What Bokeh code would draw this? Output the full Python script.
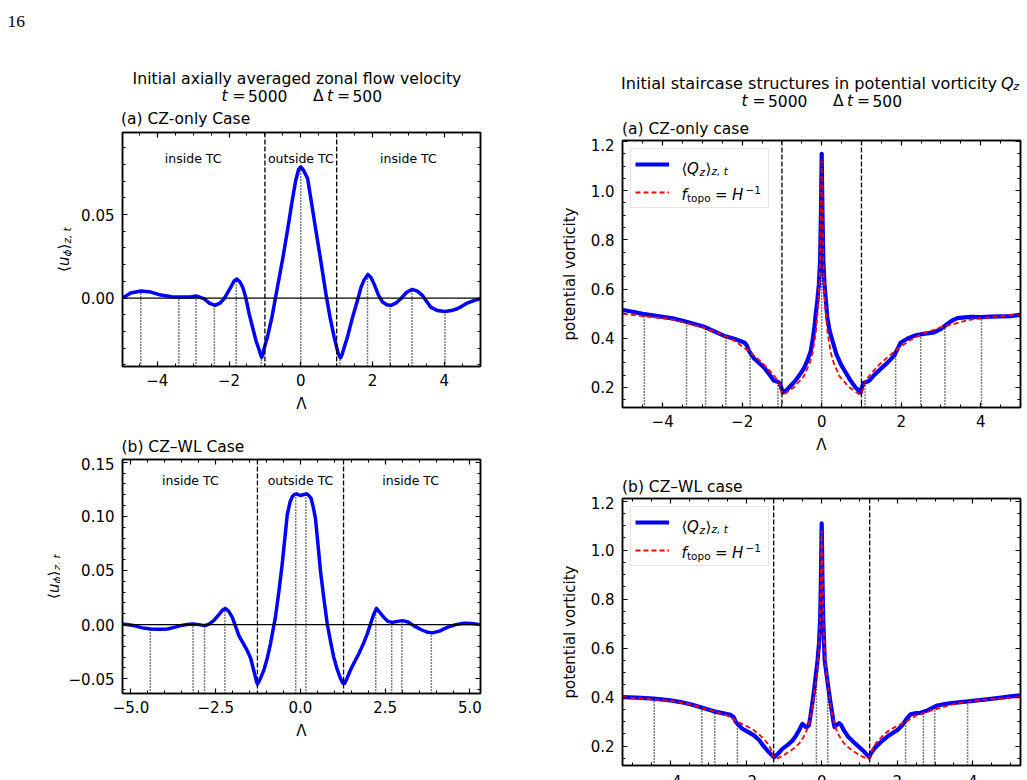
import numpy as np
from bokeh.plotting import figure
from bokeh.layouts import row, column
from bokeh.models import (Range1d, LinearAxis, SingleIntervalTicker, CustomJSTickFormatter,
                          Span, Label, Legend, LegendItem)
from bokeh.core.properties import value
from bokeh.embed import file_html
from bokeh.resources import INLINE

FONT = "DejaVu Sans"
SERIF = "Liberation Serif"
BLUE = "#0000ff"
RED = "#ff0000"

# ---------------- data ----------------
# (a) CZ-only: axially averaged zonal flow <u_phi>_{z,t}
lam_a = [-4.97, -4.74, -4.46, -4.18, -3.9, -3.6, -3.38, -3.06, -2.9, -2.69, -2.55, -2.39, -2.25,
         -2.14, -1.95, -1.86, -1.78, -1.7, -1.62, -1.53, -1.44, -1.25, -1.16, -1.12, -1.09, -1.06,
         -1.02, -0.93, -0.8, -0.65, -0.5, -0.37, -0.25, -0.14, -0.06, 0.0, 0.08, 0.19, 0.3, 0.42,
         0.56, 0.7, 0.82, 0.93, 1.03, 1.08, 1.11, 1.15, 1.19, 1.3, 1.45, 1.58, 1.68, 1.76, 1.87,
         1.96, 2.04, 2.16, 2.28, 2.4, 2.51, 2.65, 2.79, 2.95, 3.11, 3.25, 3.39, 3.5, 3.62, 3.8,
         4.02, 4.2, 4.36, 4.5, 4.64, 4.82, 5.0]
u_a = [0.0, 0.003, 0.0042, 0.0036, 0.0018, 0.0008, 0.0006, 0.0008, 0.0012, -0.0005, -0.003,
       -0.0044, -0.003, -0.0005, 0.0066, 0.0102, 0.0114, 0.0098, 0.0066, 0.0, -0.0094, -0.0254,
       -0.031, -0.034, -0.0355, -0.034, -0.030, -0.0234, -0.011, 0.0066, 0.024, 0.0406, 0.057,
       0.0706, 0.077, 0.0786, 0.0765, 0.0716, 0.057, 0.0406, 0.022, 0.0026, -0.012, -0.0234,
       -0.032, -0.035, -0.0357, -0.034, -0.031, -0.0234, -0.011, -0.0014, 0.0065, 0.0106, 0.0142,
       0.0122, 0.0086, 0.002, -0.0024, -0.004, -0.0044, -0.003, -0.0004, 0.0035, 0.0052, 0.0042,
       0.0016, -0.0018, -0.0054, -0.0074, -0.008, -0.0075, -0.0064, -0.0048, -0.003, -0.0015,
       -0.0004]

# (b) CZ-WL: axially averaged zonal flow
lam_b = [-5.25, -4.92, -4.66, -4.42, -4.15, -3.93, -3.72, -3.54, -3.35, -3.17, -3.0, -2.82, -2.7,
         -2.56, -2.4, -2.3, -2.22, -2.12, -2.01, -1.82, -1.66, -1.57, -1.47, -1.38, -1.31, -1.27,
         -1.2, -1.08, -0.98, -0.885, -0.74, -0.64, -0.54, -0.46, -0.39, -0.31, -0.24, -0.18, -0.12,
         -0.05, 0.02, 0.1, 0.17, 0.24, 0.31, 0.38, 0.44, 0.52, 0.59, 0.69, 0.79, 0.89, 0.98, 1.08,
         1.18, 1.25, 1.3, 1.38, 1.47, 1.6, 1.72, 1.85, 1.97, 2.08, 2.16, 2.24, 2.32, 2.46, 2.58,
         2.71, 2.86, 3.01, 3.17, 3.34, 3.55, 3.72, 3.89, 4.1, 4.33, 4.58, 4.82, 5.05, 5.31]
u_b = [0.0006, -0.0009, -0.003, -0.004, -0.0042, -0.004, -0.0025, -0.0009, 0.0002, 0.0006, 0.0,
       -0.0009, 0.0005, 0.0037, 0.0095, 0.0133, 0.015, 0.0125, 0.0067, -0.010, -0.019, -0.024,
       -0.031, -0.042, -0.051, -0.055, -0.051, -0.042, -0.031, -0.0177, 0.0067, 0.030, 0.0557,
       0.080, 0.1016, 0.113, 0.1183, 0.1203, 0.1208, 0.1198, 0.1193, 0.1202, 0.1208, 0.1195,
       0.1168, 0.108, 0.0984, 0.073, 0.0495, 0.024, 0.0006, -0.016, -0.030, -0.041, -0.0498,
       -0.054, -0.0544, -0.049, -0.0422, -0.034, -0.0269, -0.018, -0.0085, 0.002, 0.0095, 0.015,
       0.012, 0.0067, 0.003, 0.0021, 0.003, 0.0037, 0.0025, -0.0009, -0.0045, -0.0068, -0.0076,
       -0.006, -0.0025, 0.0, 0.0012, 0.001, 0.0]

# (a) CZ-only: potential vorticity <Q_z>_{z,t} and f_topo = 1/H
lam_c = [-5.0, -4.75, -4.5, -4.25, -4.0, -3.75, -3.45, -3.2, -2.96, -2.7, -2.42, -2.2, -1.95,
         -1.88, -1.83, -1.7, -1.45, -1.3, -1.2, -1.1, -1.05, -1.0, -0.96, -0.88, -0.78, -0.67,
         -0.57, -0.46, -0.36, -0.28, -0.23, -0.18, -0.15, -0.11, -0.07, -0.04, -0.02, 0.0, 0.02,
         0.04, 0.07, 0.11, 0.14, 0.2, 0.27, 0.37, 0.48, 0.6, 0.73, 0.85, 0.94, 0.98, 1.0, 1.05,
         1.12, 1.19, 1.33, 1.48, 1.65, 1.82, 1.9, 1.99, 2.15, 2.32, 2.55, 2.83, 3.0, 3.16, 3.3,
         3.41, 3.6, 3.75, 4.0, 4.25, 4.5, 4.75, 5.0]
q_c = [0.515, 0.508, 0.499, 0.493, 0.487, 0.481, 0.469, 0.458, 0.447, 0.428, 0.408, 0.398, 0.383,
       0.37, 0.349, 0.318, 0.281, 0.25, 0.227, 0.223, 0.215, 0.192, 0.18, 0.19, 0.207, 0.226,
       0.248, 0.274, 0.309, 0.345, 0.39, 0.45, 0.499, 0.553, 0.62, 0.72, 0.9, 1.15, 0.9, 0.72,
       0.62, 0.545, 0.485, 0.43, 0.39, 0.335, 0.295, 0.262, 0.227, 0.2, 0.187, 0.18, 0.195, 0.218,
       0.222, 0.227, 0.252, 0.275, 0.3, 0.329, 0.355, 0.383, 0.398, 0.41, 0.418, 0.424, 0.438,
       0.458, 0.474, 0.482, 0.485, 0.487, 0.486, 0.488, 0.489, 0.49, 0.495]
lam_fc = [-5.0, -4.5, -4.0, -3.75, -3.5, -3.16, -3.0, -2.49, -2.2, -1.85, -1.48, -1.25, -1.11,
          -1.06, -1.0, -0.94, -0.7, -0.45, -0.3, -0.23, -0.15, -0.09, -0.05, -0.025, 0.0, 0.025,
          0.05, 0.09, 0.15, 0.23, 0.3, 0.45, 0.7, 0.94, 1.0, 1.06, 1.11, 1.25, 1.48, 1.85, 2.2,
          2.49, 3.0, 3.16, 3.5, 3.75, 4.0, 4.5, 5.0]
f_c = [0.50, 0.49, 0.481, 0.476, 0.466, 0.451, 0.445, 0.415, 0.39, 0.35, 0.298, 0.258, 0.23,
       0.21, 0.172, 0.173, 0.2, 0.245, 0.3, 0.34, 0.42, 0.53, 0.65, 0.85, 1.13, 0.85, 0.65, 0.53,
       0.42, 0.34, 0.3, 0.245, 0.2, 0.173, 0.172, 0.21, 0.23, 0.258, 0.298, 0.35, 0.39, 0.415,
       0.445, 0.451, 0.466, 0.476, 0.481, 0.49, 0.50]

# (b) CZ-WL: potential vorticity and f_topo
lam_d = [-5.27, -4.9, -4.45, -4.0, -3.73, -3.45, -3.2, -2.85, -2.6, -2.41, -2.33, -2.27, -2.1,
         -1.95, -1.79, -1.65, -1.53, -1.4, -1.26, -1.15, -1.04, -0.9, -0.77, -0.68, -0.6, -0.55,
         -0.51, -0.46, -0.42, -0.38, -0.34, -0.3, -0.25, -0.2, -0.16, -0.11, -0.07, -0.04, -0.02,
         0.0, 0.02, 0.04, 0.08, 0.15, 0.22, 0.28, 0.31, 0.34, 0.4, 0.46, 0.52, 0.59, 0.7, 0.85,
         1.0, 1.12, 1.21, 1.26, 1.3, 1.42, 1.56, 1.73, 1.91, 2.02, 2.13, 2.24, 2.35, 2.5, 2.62,
         2.8, 3.06, 3.3, 3.5, 3.94, 4.3, 4.7, 5.0, 5.27]
q_d = [0.40, 0.398, 0.394, 0.387, 0.38, 0.37, 0.359, 0.342, 0.334, 0.328, 0.318, 0.298, 0.271,
       0.258, 0.244, 0.224, 0.199, 0.176, 0.155, 0.17, 0.189, 0.205, 0.223, 0.243, 0.264, 0.28,
       0.291, 0.285, 0.278, 0.28, 0.285, 0.32, 0.373, 0.43, 0.482, 0.55, 0.62, 0.72, 0.88, 1.11,
       0.88, 0.72, 0.55, 0.468, 0.39, 0.332, 0.3, 0.278, 0.287, 0.294, 0.285, 0.264, 0.238,
       0.216, 0.195, 0.178, 0.162, 0.155, 0.17, 0.195, 0.216, 0.238, 0.257, 0.268, 0.285, 0.31,
       0.33, 0.335, 0.336, 0.346, 0.366, 0.373, 0.377, 0.384, 0.39, 0.397, 0.403, 0.407]
lam_fd = [-5.27, -4.5, -4.0, -3.5, -3.0, -2.5, -2.27, -2.0, -1.79, -1.6, -1.45, -1.35, -1.3,
          -1.26, -1.15, -1.0, -0.74, -0.6, -0.48, -0.38, -0.3, -0.24, -0.2, -0.15, -0.11, -0.06,
          -0.03, 0.0, 0.03, 0.06, 0.11, 0.15, 0.2, 0.24, 0.3, 0.38, 0.48, 0.6, 0.74, 1.0, 1.15,
          1.26, 1.3, 1.35, 1.45, 1.6, 1.79, 2.0, 2.27, 2.5, 3.0, 3.5, 4.0, 4.5, 5.27]
f_d = [0.40, 0.392, 0.385, 0.372, 0.35, 0.325, 0.303, 0.283, 0.265, 0.24, 0.215, 0.19, 0.17,
       0.148, 0.152, 0.163, 0.19, 0.21, 0.237, 0.27, 0.315, 0.36, 0.41, 0.47, 0.52, 0.63, 0.8,
       1.08, 0.8, 0.63, 0.52, 0.47, 0.41, 0.36, 0.315, 0.27, 0.237, 0.21, 0.19, 0.163, 0.152,
       0.148, 0.17, 0.19, 0.215, 0.24, 0.265, 0.283, 0.303, 0.325, 0.35, 0.372, 0.385, 0.392,
       0.40]

# zonal-jet extrema (dotted markers) and tangent-cylinder boundaries
extrema_cz = [-4.46, -3.4, -2.92, -2.41, -1.8, -1.1, 0.0, 1.09, 1.86, 2.49, 3.1, 4.02]
extrema_wl = [-4.43, -3.17, -2.83, -2.23, -0.14, 0.16, 2.22, 2.69, 2.99, 3.86]
tc_cz = [-1.0, 1.0]
tc_wl = [-1.27, 1.27]
region_x_cz = [-3.0, 0.0, 3.0]
region_x_wl = [-3.25, 0.0, 3.25]
region_names = ["inside TC", "outside TC", "inside TC"]
# x tick labels of the lower potential-vorticity panel (cut by the page edge)
ticks_d = [-4, -2, 0, 2, 4]
tick_text_d = ["−4", "−2", "0", "2", "4"]


# ---------------- helpers ----------------
def tick_fmt(decimals):
    return CustomJSTickFormatter(args=dict(d=decimals), code="""
        const v = Math.abs(tick) < 1e-9 ? 0 : tick;
        return v.toFixed(d).replace("-", "\u2212");
    """)


def blank_fmt():
    return CustomJSTickFormatter(code="return '';")


def style_axis(ax, ticker, formatter, standoff=7):
    ax.ticker = ticker
    ax.formatter = formatter
    ax.major_tick_in = 5
    ax.major_tick_out = 0
    ax.minor_tick_in = 3
    ax.minor_tick_out = 0
    ax.major_tick_line_width = 1.2
    ax.minor_tick_line_width = 1.0
    ax.axis_line_width = 1.5
    ax.axis_line_color = "black"
    ax.major_tick_line_color = "black"
    ax.minor_tick_line_color = "black"
    ax.major_label_text_font = FONT
    ax.major_label_text_font_size = "15px"
    ax.major_label_text_color = "black"
    ax.major_label_standoff = standoff
    ax.axis_label_text_font = FONT
    ax.axis_label_text_font_size = "15px"
    ax.axis_label_text_font_style = "normal"
    ax.axis_label_text_color = "black"


def panel(xr, yr, fw, fh, border, xstep, xminor, ystep, yminor, xdec, ydec, bottom_labels=True):
    left, right, top, bottom = border
    p = figure(frame_width=fw, frame_height=fh, min_border_left=left, min_border_right=right,
               min_border_top=top, min_border_bottom=bottom,
               x_range=Range1d(*xr), y_range=Range1d(*yr), title=None,
               output_backend="svg", toolbar_location=None)
    p.grid.visible = False
    p.outline_line_color = "black"
    p.outline_line_width = 1.5
    p.background_fill_color = "white"
    p.border_fill_color = "white"
    xt = SingleIntervalTicker(interval=xstep, num_minor_ticks=xminor)
    yt = SingleIntervalTicker(interval=ystep, num_minor_ticks=yminor)
    if bottom_labels:
        style_axis(p.below[0], xt, tick_fmt(xdec))
        p.below[0].axis_label = "Λ"
        p.below[0].axis_label_standoff = 6
    else:
        style_axis(p.below[0], xt, blank_fmt(), standoff=0)
    style_axis(p.left[0], yt, tick_fmt(ydec), standoff=8)
    top_ax = LinearAxis()
    right_ax = LinearAxis()
    style_axis(top_ax, xt, blank_fmt(), standoff=0)
    style_axis(right_ax, yt, blank_fmt(), standoff=0)
    p.add_layout(top_ax, "above")
    p.add_layout(right_ax, "right")
    return p


def text_canvas(w, h):
    # plain white strip that only carries text
    p = figure(width=w, height=h, x_range=Range1d(0, w), y_range=Range1d(0, h),
               x_axis_type=None, y_axis_type=None, title=None, min_border=0,
               output_backend="svg", toolbar_location=None)
    p.outline_line_color = None
    p.background_fill_color = "white"
    p.border_fill_color = "white"
    return p


def text_at(p, left, bottom, px, py, text, size=15.0, style="normal",
            align="left", angle=0.0, font=FONT, level="annotation"):
    # page position -> offset from the lower-left corner of the frame at (left, bottom)
    p.add_layout(Label(x=px - left, y=bottom - py, x_units="screen", y_units="screen",
                       text=text, text_font=font, text_font_size=f"{size}px",
                       text_font_style=style, text_align=align, text_baseline="alphabetic",
                       angle=angle, text_color="black", level=level))


def time_line(p, left, bottom, x0, base):
    pieces = [(0.0, "t", "italic"), (11.0, "=", "normal"), (26.5, "5000", "normal"),
              (91.5, "Δ", "normal"), (105.5, "t", "italic"), (115.5, "=", "normal"),
              (131.0, "500", "normal")]
    for dx, s, st in pieces:
        text_at(p, left, bottom, x0 + dx, base, s, 15.5, st)


def uphi_label(p, left, bottom, x_main, y_start):
    up = np.pi / 2
    x_sub = x_main + 3.0
    text_at(p, left, bottom, x_main, y_start, "⟨", 15, "normal", angle=up)
    text_at(p, left, bottom, x_main, y_start - 5.9, "u", 15, "italic", angle=up)
    text_at(p, left, bottom, x_sub, y_start - 15.4, "ϕ", 10.5, "italic", angle=up)
    text_at(p, left, bottom, x_main, y_start - 22.5, "⟩", 15, "normal", angle=up)
    text_at(p, left, bottom, x_sub, y_start - 28.4, "z, t", 10.5, "italic", angle=up)


def legend_text(p, left, bottom, ftop):
    b1 = ftop + 28.0
    b2 = ftop + 54.5
    lv = "overlay"
    text_at(p, left, bottom, 681.0, b1, "⟨", 15, level=lv)
    text_at(p, left, bottom, 686.5, b1, "Q", 15, "italic", level=lv)
    text_at(p, left, bottom, 699.0, b1 + 3, "z", 10.5, "italic", level=lv)
    text_at(p, left, bottom, 705.0, b1, "⟩", 15, level=lv)
    text_at(p, left, bottom, 711.0, b1 + 2.5, "z, t", 10.5, "italic", level=lv)
    text_at(p, left, bottom, 681.0, b2, "f", 15, "italic", level=lv)
    text_at(p, left, bottom, 686.5, b2 + 3, "topo", 10.5, level=lv)
    text_at(p, left, bottom, 714.5, b2, "=", 15, level=lv)
    text_at(p, left, bottom, 731.5, b2, "H", 15, "italic", level=lv)
    text_at(p, left, bottom, 745.0, b2 - 5.5, "−1", 10.5, level=lv)


def add_legend(p, r_blue, r_red):
    leg = Legend(items=[LegendItem(label=value(" "), renderers=[r_blue]),
                        LegendItem(label=value("  "), renderers=[r_red])],
                 location="top_left", margin=8, padding=4, spacing=6,
                 glyph_width=34, glyph_height=22, label_width=82, label_height=22,
                 label_standoff=13, border_line_color="#cccccc", border_line_width=1.2,
                 background_fill_alpha=0.0, label_text_font_size="15px")
    p.add_layout(leg)


def dotted_markers(p, xs, curve_x, curve_y, ybottom):
    heights = np.interp(xs, curve_x, curve_y)
    p.segment(x0=xs, y0=[ybottom] * len(xs), x1=xs, y1=heights,
              line_color="black", line_width=1.5, line_dash="1 2", level="overlay")


def tc_spans(p, locs):
    for loc in locs:
        p.add_layout(Span(location=loc, dimension="height", line_color="black",
                          line_width=1.3, line_dash="5 2"))


# ---------------- left column: zonal flow ----------------
head_l = text_canvas(500, 130)               # page y 0..130
text_at(head_l, 0, 130, 7.0, 20.7, "16", 17.5, font=SERIF)
text_at(head_l, 0, 130, 296.5, 78.3, "Initial axially averaged zonal flow velocity", 15.7,
        align="center")
time_line(head_l, 0, 130, 221.0, 95.0)
text_at(head_l, 0, 130, 120.5, 118.0, "(a) CZ-only Case", 15.5)

ylab_a = text_canvas(72, 290)                # page x 0..72, y 130..420
uphi_label(ylab_a, 0, 420, 63.5, 271.5)

yr_a = (-0.041, 0.0992)
pa = panel((-4.97, 5.01), yr_a, 358, 234, (50, 20, 2, 54), 2, 4, 0.05, 5, 0, 2)
pa.add_layout(Span(location=0, dimension="width", line_color="black", line_width=1.3))
tc_spans(pa, tc_cz)
pa.line(lam_a, u_a, line_color=BLUE, line_width=3.5, line_join="round")
dotted_markers(pa, extrema_cz, lam_a, u_a, yr_a[0])
for xv, name in zip(region_x_cz, region_names):
    pa.add_layout(Label(x=xv, y=366 - 158, x_units="data", y_units="screen", text=name,
                        text_font=FONT, text_font_size="12.5px", text_align="center",
                        text_baseline="alphabetic", text_color="black"))

mid_l = text_canvas(500, 37)                 # page y 420..457
text_at(mid_l, 0, 457, 121.0, 446.0, "(b) CZ–WL Case", 15.5)

ylab_b = text_canvas(60, 323)                # page x 0..60, y 457..780
uphi_label(ylab_b, 0, 780, 53.5, 598.5)

yr_b = (-0.0636, 0.1525)
pb = panel((-5.25, 5.31), yr_b, 358, 234, (62, 20, 2, 87), 2.5, 5, 0.05, 5, 1, 2)
pb.add_layout(Span(location=0, dimension="width", line_color="black", line_width=1.3))
tc_spans(pb, tc_wl)
pb.line(lam_b, u_b, line_color=BLUE, line_width=3.5, line_join="round")
dotted_markers(pb, extrema_wl, lam_b, u_b, yr_b[0])
for xv, name in zip(region_x_wl, region_names):
    pb.add_layout(Label(x=xv, y=693 - 479.5, x_units="data", y_units="screen", text=name,
                        text_font=FONT, text_font_size="12.5px", text_align="center",
                        text_baseline="alphabetic", text_color="black"))

# ---------------- right column: potential vorticity ----------------
head_r = text_canvas(527, 138)               # page x 500..1027, y 0..138
text_at(head_r, 500, 138, 996.5, 82.5, "Initial staircase structures in potential vorticity",
        16.1, align="right")
text_at(head_r, 500, 138, 1000.5, 82.5, "Q", 16, "italic")
text_at(head_r, 500, 138, 1012.8, 85.5, "z", 11, "italic")
time_line(head_r, 500, 138, 741.0, 100.5)
text_at(head_r, 500, 138, 621.5, 128.0, "(a) CZ-only case", 15.5)

yr_c = (0.1186, 1.204)
pc = panel((-5.01, 5.0), yr_c, 398, 267, (122, 7, 2, 53), 2, 4, 0.2, 4, 0, 1)
pc.left[0].axis_label = "potential vorticity"
pc.left[0].axis_label_standoff = 9
tc_spans(pc, tc_cz)
rb_c = pc.line(lam_c, q_c, line_color=BLUE, line_width=4.2, line_join="round")
rr_c = pc.line(lam_fc, f_c, line_color=RED, line_width=1.8, line_dash="5 3")
dotted_markers(pc, extrema_cz, lam_c, q_c, yr_c[0])
add_legend(pc, rb_c, rr_c)
legend_text(pc, 622, 407, 140)

mid_r = text_canvas(527, 36)                 # page y 460..496
text_at(mid_r, 500, 496, 621.5, 486.5, "(b) CZ–WL case", 15.5)

yr_d = (0.121, 1.211)
pd_ = panel((-5.27, 5.26), yr_d, 398, 267, (122, 7, 2, 2), 2, 4, 0.2, 4, 0, 1,
            bottom_labels=False)
pd_.left[0].axis_label = "potential vorticity"
pd_.left[0].axis_label_standoff = 9
tc_spans(pd_, tc_wl)
rb_d = pd_.line(lam_d, q_d, line_color=BLUE, line_width=4.2, line_join="round")
rr_d = pd_.line(lam_fd, f_d, line_color=RED, line_width=1.8, line_dash="5 3")
dotted_markers(pd_, extrema_wl, lam_d, q_d, yr_d[0])
add_legend(pd_, rb_d, rr_d)
legend_text(pd_, 622, 765, 498)

# strip under the lower panel: its tick labels, cut by the bottom of the page
strip_d = figure(frame_width=398, frame_height=13, min_border_left=122, min_border_right=7,
                 min_border_top=0, min_border_bottom=0, x_range=pd_.x_range,
                 y_range=Range1d(0, 13), x_axis_type=None, y_axis_type=None, title=None,
                 output_backend="svg", toolbar_location=None)
strip_d.outline_line_color = None
strip_d.border_fill_color = "white"
for tv, tt in zip(ticks_d, tick_text_d):
    strip_d.add_layout(Label(x=tv, y=6, x_units="data", y_units="screen", text=tt,
                             text_font=FONT, text_font_size="15px", text_align="center",
                             text_baseline="top", text_color="black"))

left_col = column(row(head_l), row(column(ylab_a), pa), row(mid_l), row(column(ylab_b), pb))
right_col = column(row(head_r), pc, row(mid_r), pd_, strip_d)
page = row(left_col, right_col)

open("out.html", "w").write(file_html(page, INLINE))
